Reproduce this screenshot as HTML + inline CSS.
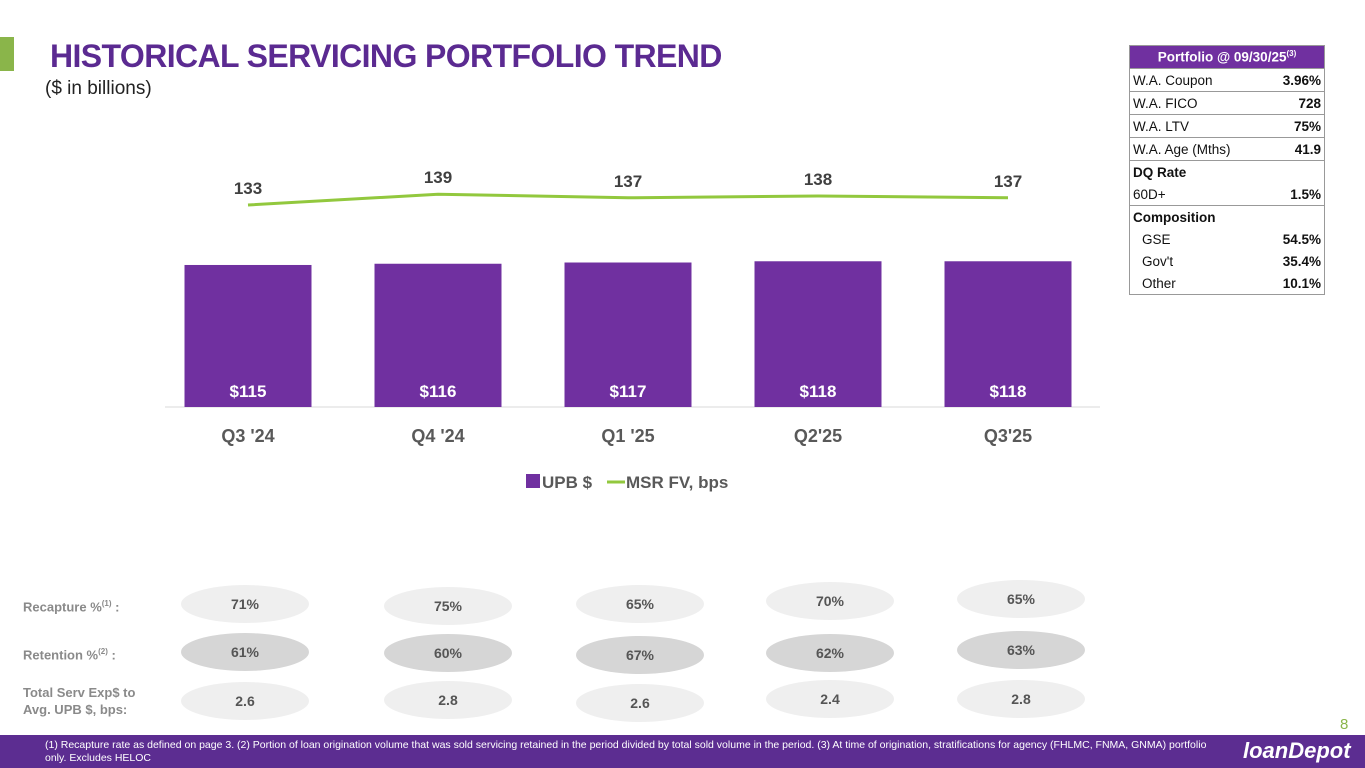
<!DOCTYPE html>
<html><head><meta charset="utf-8"><style>
body{margin:0;width:1365px;height:768px;position:relative;background:#fff;font-family:"Liberation Sans",sans-serif;overflow:hidden}
.abs{position:absolute}
#title{left:50px;top:38px;font-size:32px;font-weight:bold;color:#5b2a91;letter-spacing:-0.6px}
#sub{left:45px;top:78px;font-size:19px;color:#222}
table{border-collapse:collapse;font-size:13.5px;color:#111}
td{padding:0 3px;height:22px;border-top:1px solid #999}
.v{text-align:right;font-weight:bold}
.lbl{font-size:13px;font-weight:bold;color:#8a8a8a;line-height:17px}
.ell{border-radius:50%;width:128px;height:38px;text-align:center;line-height:38px;font-size:14px;font-weight:bold;color:#555}
</style></head><body>
<div class="abs" style="left:0;top:37px;width:14px;height:34px;background:#8ab54a"></div>
<div class="abs" id="title">HISTORICAL SERVICING PORTFOLIO TREND</div>
<div class="abs" id="sub">($ in billions)</div>

<table class="abs" style="left:1129px;top:45px;width:196px;border:1px solid #999">
<tr><td colspan="2" style="background:#7030a0;color:#fff;text-align:center;font-weight:bold;height:22px">Portfolio @ 09/30/25<sup style="font-size:8px">(3)</sup></td></tr>
<tr><td>W.A. Coupon</td><td class="v">3.96%</td></tr>
<tr><td>W.A. FICO</td><td class="v">728</td></tr>
<tr><td>W.A. LTV</td><td class="v">75%</td></tr>
<tr><td>W.A. Age (Mths)</td><td class="v">41.9</td></tr>
<tr><td style="font-weight:bold">DQ Rate</td><td></td></tr>
<tr><td style="border-top:0">60D+</td><td class="v" style="border-top:0">1.5%</td></tr>
<tr><td style="font-weight:bold">Composition</td><td></td></tr>
<tr><td style="border-top:0;padding-left:12px">GSE</td><td class="v" style="border-top:0">54.5%</td></tr>
<tr><td style="border-top:0;padding-left:12px">Gov't</td><td class="v" style="border-top:0">35.4%</td></tr>
<tr><td style="border-top:0;padding-left:12px">Other</td><td class="v" style="border-top:0">10.1%</td></tr>
</table>

<svg id="chart" class="abs" style="left:0;top:0" width="1365" height="560"></svg>

<div class="abs lbl" style="left:23px;top:595px">Recapture %<sup style="font-size:8px">(1)</sup> :</div>
<div class="abs lbl" style="left:23px;top:643px">Retention %<sup style="font-size:8px">(2)</sup> :</div>
<div class="abs lbl" style="left:23px;top:684px">Total Serv Exp$ to<br>Avg. UPB $, bps:</div>
<div id="ells"></div>

<div class="abs" style="left:1340px;top:716px;color:#8ab54a;font-size:15px">8</div>
<div class="abs" style="left:0;top:735px;width:1365px;height:33px;background:#5c2d91"></div>
<div class="abs" style="left:45px;top:739px;width:1180px;color:#fff;font-size:10.5px;line-height:13px">(1) Recapture rate as defined on page 3. (2) Portion of loan origination volume that was sold servicing retained in the period divided by total sold volume in the period. (3) At time of origination, stratifications for agency (FHLMC, FNMA, GNMA) portfolio only. Excludes HELOC</div>
<div class="abs" style="left:1243px;top:738px;color:#fff;font-size:22px;font-weight:bold;font-style:italic">loanDepot</div>

<script>
const categories=["Q3 '24","Q4 '24","Q1 '25","Q2'25","Q3'25"];
const upb=[115,116,117,118,118];
const msr=[133,139,137,138,137];
const recapture=["71%","75%","65%","70%","65%"];
const retention=["61%","60%","67%","62%","63%"];
const servExp=["2.6","2.8","2.6","2.4","2.8"];
const NS="http://www.w3.org/2000/svg";
const svg=document.getElementById('chart');
const baseY=407,k=1.235;
const xC=i=>248+i*190;
const yBar=v=>baseY-v*k;
const yLine=v=>205-(v-133)*1.8;
function mk(t,a,txt){const e=document.createElementNS(NS,t);for(const p in a)e.setAttribute(p,a[p]);if(txt!=null)e.textContent=txt;svg.appendChild(e);return e;}
let ax=mk('line',{x1:165,x2:1100,y1:baseY,y2:baseY,stroke:'#d9d9d9','stroke-width':1});


upb.forEach((v,i)=>{
  const r=mk('rect',{x:xC(i)-63.5,y:yBar(v),width:127,height:baseY-yBar(v),fill:'#7030a0'});
  
  
  const t=mk('text',{x:xC(i),y:397,'text-anchor':'middle',fill:'#fff','font-size':17,'font-weight':'bold','font-family':'Liberation Sans'},'$'+v);
  
  
  const c=mk('text',{x:xC(i),y:442,'text-anchor':'middle',fill:'#595959','font-size':18,'font-weight':'bold','font-family':'Liberation Sans'},categories[i]);
  
  
});
const pl=mk('polyline',{points:msr.map((v,i)=>xC(i)+','+yLine(v)).join(' '),fill:'none',stroke:'#92c83e','stroke-width':3});


msr.forEach((v,i)=>{
  const t=mk('text',{x:xC(i),y:yLine(v)-11,'text-anchor':'middle',fill:'#404040','font-size':17,'font-weight':'bold','font-family':'Liberation Sans'},v);
  
  
});
const lg1=mk('rect',{x:526,y:474,width:14,height:14,fill:'#7030a0'});


const lt1=mk('text',{x:542,y:488,fill:'#595959','font-size':17,'font-weight':'bold','font-family':'Liberation Sans'},'UPB $');


const lg2=mk('line',{x1:607,x2:625,y1:482,y2:482,stroke:'#92c83e','stroke-width':3});


const lt2=mk('text',{x:626,y:488,fill:'#595959','font-size':17,'font-weight':'bold','font-family':'Liberation Sans'},'MSR FV, bps');



const ex=[245,448,640,830,1021];
const rows=[[recapture,[604,606,604,601,599],'#efefef','recapture'],[retention,[652,653,655,653,650],'#d6d6d6','retention'],[servExp,[701,700,703,699,699],'#efefef','serv-exp']];
const host=document.getElementById('ells');
rows.forEach(([vals,ys,col,nm])=>vals.forEach((v,i)=>{
  const d=document.createElement('div');
  d.className='abs ell';
  d.style.left=(ex[i]-64)+'px';d.style.top=(ys[i]-19)+'px';d.style.background=col;
  d.textContent=v;
  
  
  host.appendChild(d);
}));
</script>
</body></html>
